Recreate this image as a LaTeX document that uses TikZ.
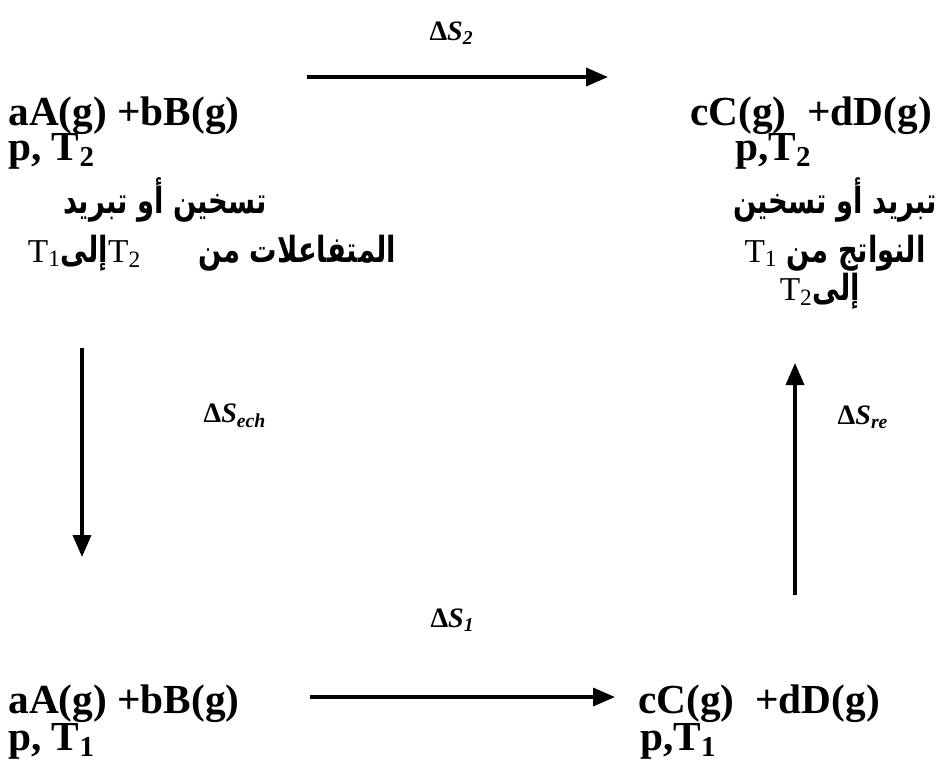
\documentclass[tikz,border=0pt]{standalone}
\usepackage{fontspec}
\setmainfont{Liberation Serif}
\newfontfamily\arabicfont[Script=Arabic,FakeStretch=0.76]{DejaVu Sans}
\TeXXeTstate=1
\usetikzlibrary{arrows.meta}

\tikzset{
  chem/.style={anchor=base west,inner sep=0pt,font=\fontsize{23.5}{26}\selectfont\bfseries},
  note/.style={anchor=base,inner sep=0pt,font=\arabicfont\fontsize{20.5}{24}\selectfont\bfseries},
  dlabel/.style={inner sep=0pt,font=\fontsize{16}{18}\selectfont\bfseries},
  flow/.style={-{Triangle[length=4.4mm,width=3.6mm]},line width=2pt}
}
\newcommand{\tT}[1]{\hbox{\beginL\rmfamily\mdseries\fontsize{19}{22}\selectfont T\textsubscript{#1}\endL}}

\begin{document}
\begin{tikzpicture}
  \useasboundingbox (0,0) rectangle (19,-15.2);

  % reactants and products at T2
  \node[chem] (tl1) at (0.16,-2.5) {aA(g) +bB(g)};
  \node[chem] (tl2) at (0.16,-3.2) {p, T\textsubscript{2}};
  \node[note] (tl3) at (3.3,-4.26) {\beginR تسخين أو تبريد\endR};
  \node[note] (tl4) at (4.24,-5.24) {\beginR المتفاعلات من\hspace{1.6em}\tT{2}إلى\tT{1}\endR};

  \node[chem] (tr1) at (13.8,-2.5) {cC(g)\ \ +dD(g)};
  \node[chem] (tr2) at (14.7,-3.2) {p,T\textsubscript{2}};
  \node[note] (tr3) at (16.7,-4.26) {\beginR تبريد أو تسخين\endR};
  \node[note] (tr4) at (16.7,-5.24) {\beginR النواتج من \tT{1}\endR};
  \node[note] (tr5) at (16.4,-6.0) {\beginR إلى\tT{2}\endR};

  % reactants and products at T1
  \node[chem] (bl1) at (0.16,-14.26) {aA(g) +bB(g)};
  \node[chem] (bl2) at (0.16,-15.0) {p, T\textsubscript{1}};
  \node[chem] (br1) at (12.76,-14.26) {cC(g)\ \ +dD(g)};
  \node[chem] (br2) at (12.8,-15.0) {p,T\textsubscript{1}};

  \coordinate (s2a) at (6.14,-1.54);  \coordinate (s2b) at (12.16,-1.54);
  \coordinate (cha) at (1.64,-6.96);  \coordinate (chb) at (1.64,-11.14);
  \coordinate (s1a) at (6.2,-13.94);  \coordinate (s1b) at (12.3,-13.94);
  \coordinate (rea) at (15.9,-11.9);  \coordinate (reb) at (15.9,-7.26);

  \path[flow] (s2a) edge node[dlabel,xshift=-0.12cm,yshift=0.88cm] {Δ\textit{S}\textsubscript{\textit{2}}} (s2b);
  \path[flow] (cha) edge node[dlabel,pos=0.325,xshift=3.06cm] {Δ\textit{S}\textsubscript{\textit{ech}}} (chb);
  \path[flow] (s1a) edge node[dlabel,xshift=-0.2cm,yshift=1.54cm] {Δ\textit{S}\textsubscript{\textit{1}}} (s1b);
  \path[flow] (rea) edge node[dlabel,pos=0.767,xshift=1.36cm] {Δ\textit{S}\textsubscript{\textit{re}}} (reb);

\end{tikzpicture}
\end{document}
